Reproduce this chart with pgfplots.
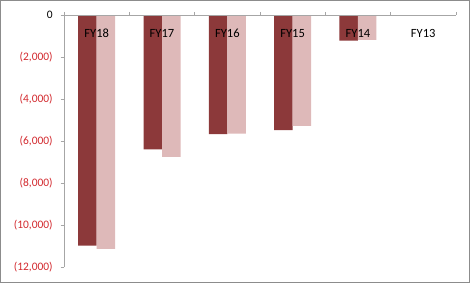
\documentclass[border=0pt]{standalone}
\usepackage{pgfplots}
\pgfplotsset{compat=1.18}
\usepackage{fontspec}
\setmainfont{Carlito}
\definecolor{darkbar}{RGB}{140,57,58}
\definecolor{lightbar}{RGB}{222,185,185}
\definecolor{negred}{RGB}{210,40,45}
\definecolor{framegray}{RGB}{140,140,140}
\begin{document}
\begin{tikzpicture}
\begin{axis}[
  scale only axis,
  width=294pt, height=189pt,
  ybar=0pt, bar width=0.283,
  xmin=-0.5, xmax=5.5,
  ymin=-12000, ymax=0,
  axis on top,
  scaled y ticks=false,
  axis x line*=top, axis y line*=left,
  axis line style={draw=gray!70, line width=0.6pt},
  xtick={0,1,2,3,4,5},
  xticklabels={FY18,FY17,FY16,FY15,FY14,FY13},
  major x tick style={draw=none},
  minor xtick={-0.5,0.5,1.5,2.5,3.5,4.5,5.5},
  minor x tick style={draw=gray!70, line width=0.6pt},
  minor tick length=2.5pt,
  major tick length=2.5pt,
  tick align=outside,
  xticklabel style={anchor=base, yshift=-19.5pt, inner sep=0pt, font=\fontsize{9.4}{11}\selectfont, text=black},
  ytick={-12000,-10000,-8000,-6000,-4000,-2000,0},
  yticklabels={(12{,}000),(10{,}000),(8{,}000),(6{,}000),(4{,}000),(2{,}000),\textcolor{black}{0}},
  yticklabel style={font=\fontsize{8.6}{10}\selectfont, text=negred, xshift=-2.5pt},
  y tick style={draw=gray!70, line width=0.6pt},
  clip=false,
]
\addplot[fill=darkbar, draw=none] coordinates {(0,-10980) (1,-6400) (2,-5670) (3,-5480) (4,-1220) (5,0)};
\addplot[fill=lightbar, draw=none] coordinates {(0,-11130) (1,-6750) (2,-5640) (3,-5270) (4,-1180) (5,0)};
\draw[framegray, line width=1.1pt] ([xshift=-47.5pt,yshift=-11.5pt]rel axis cs:0,0) rectangle ([xshift=10pt,yshift=10.8pt]rel axis cs:1,1);
\end{axis}
\end{tikzpicture}
\end{document}
